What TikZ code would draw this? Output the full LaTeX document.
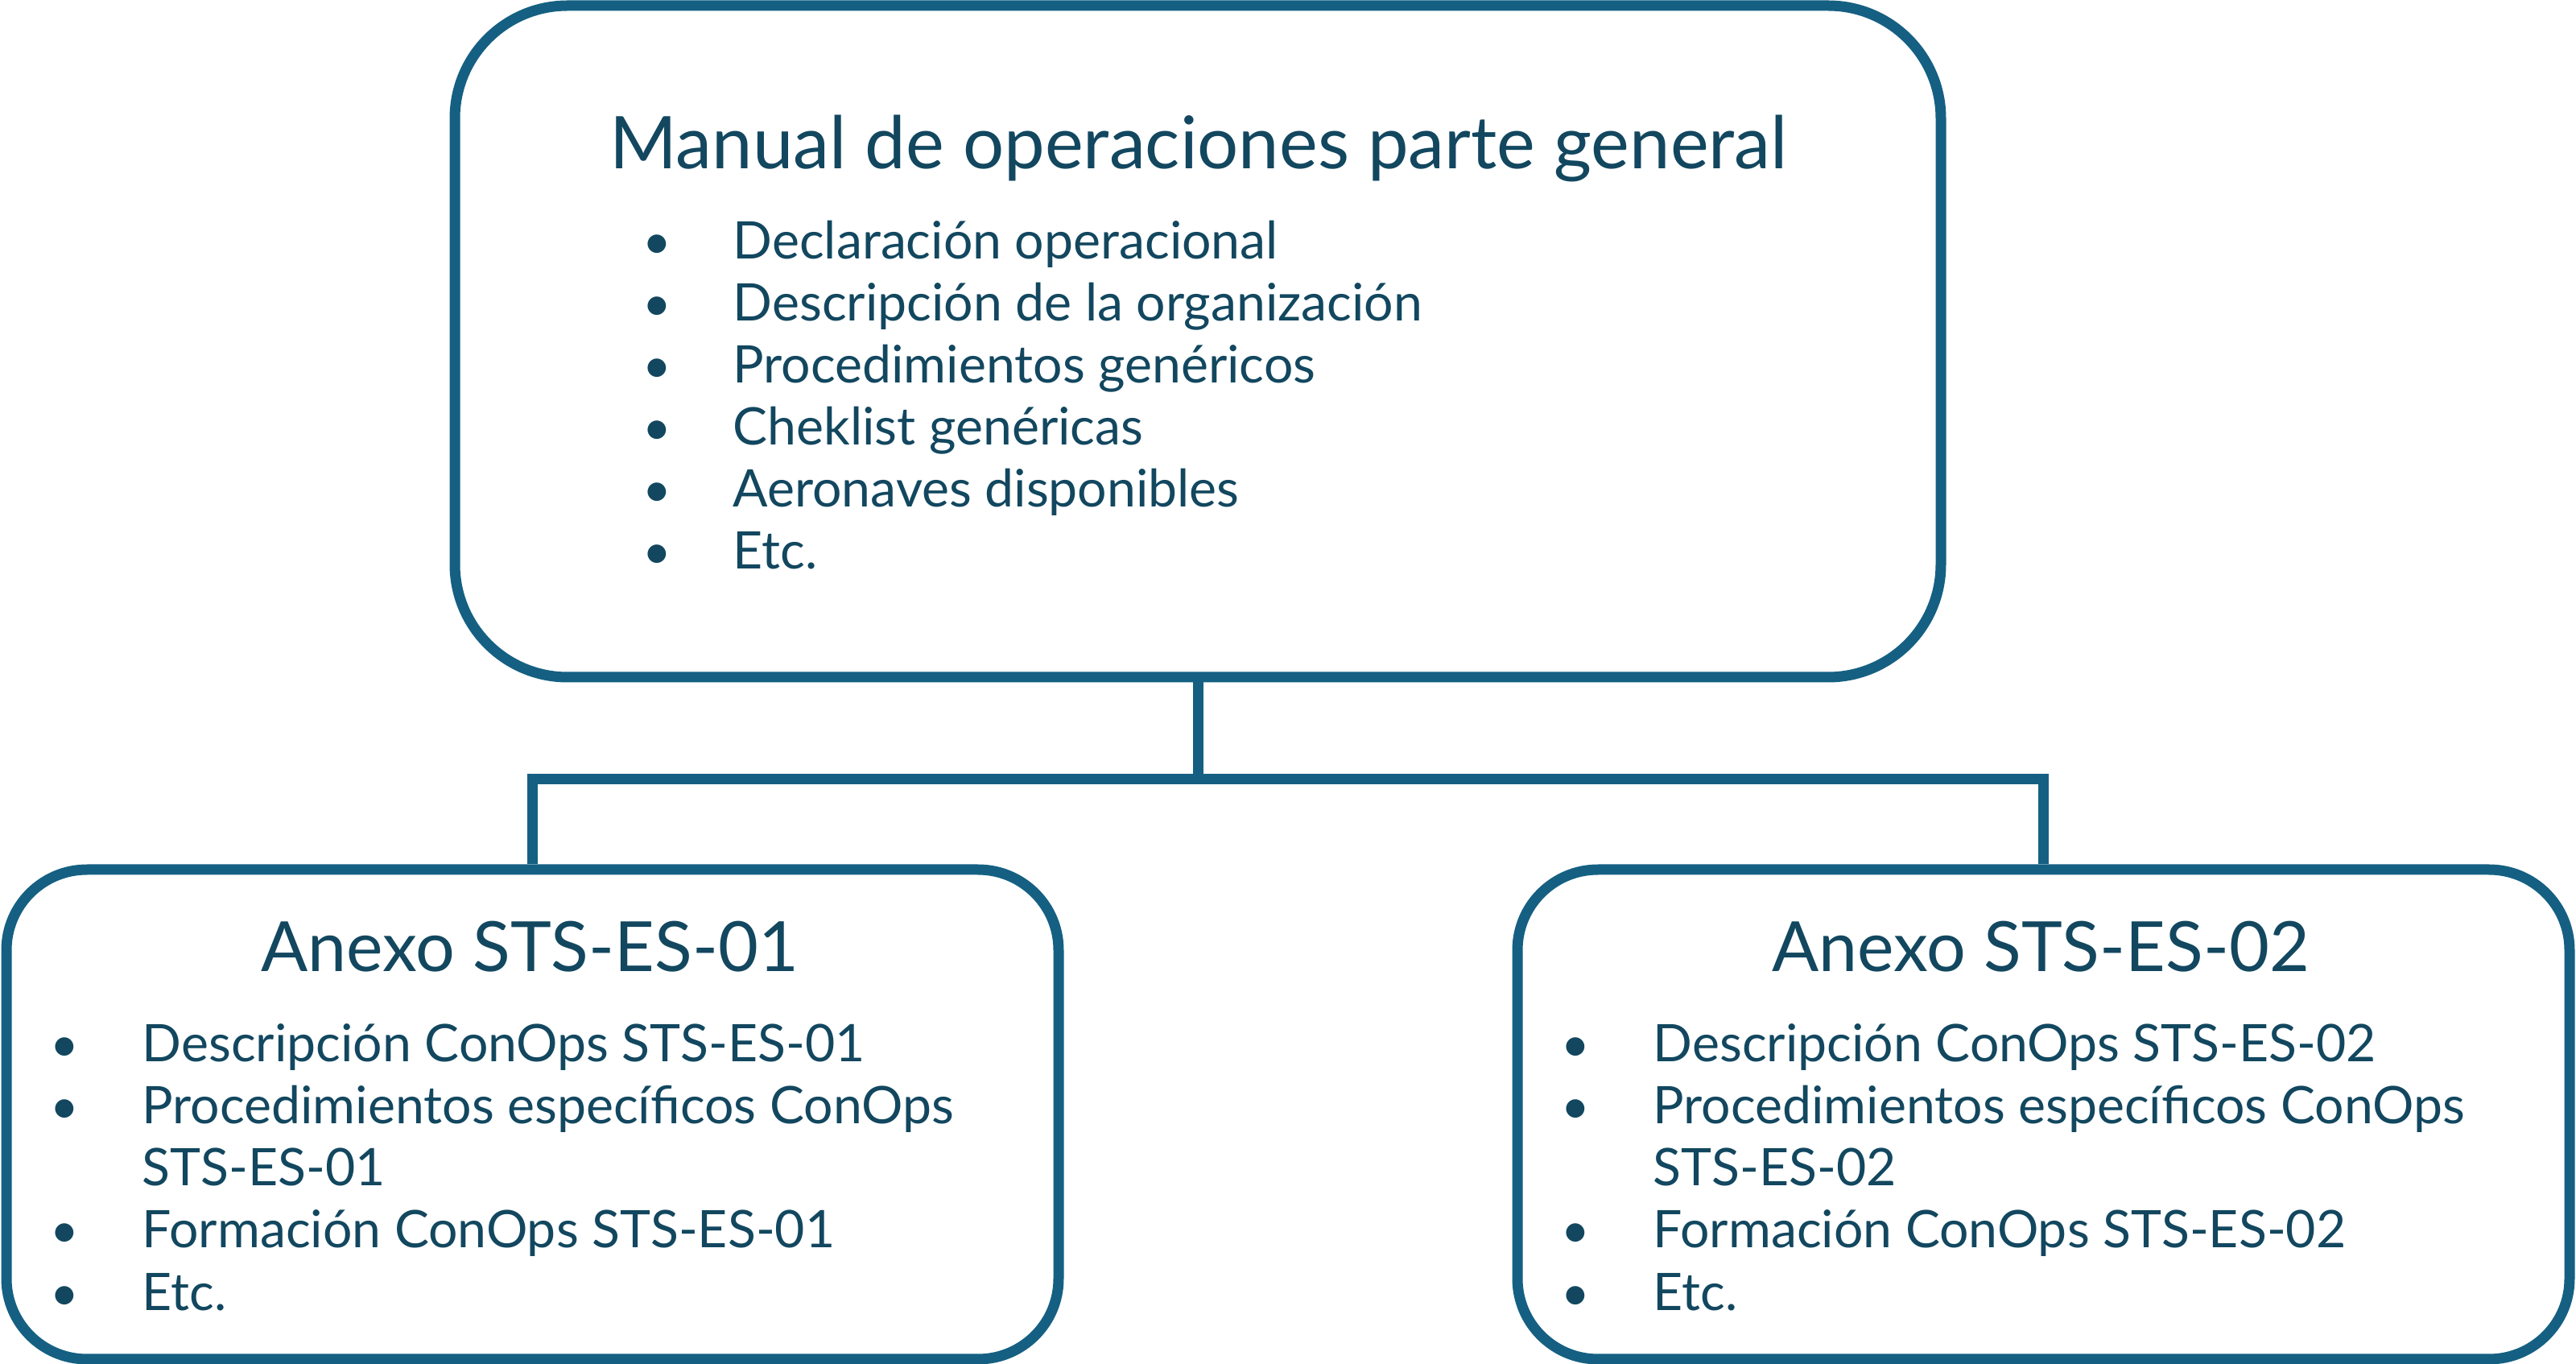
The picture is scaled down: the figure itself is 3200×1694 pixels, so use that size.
\documentclass[tikz,border=0pt]{standalone}
\usepackage{fontspec}
\setmainfont{Lato}
\usetikzlibrary{calc}

\definecolor{lineblue}{HTML}{156082}
\definecolor{textblue}{HTML}{12475F}

\tikzset{
  box/.style={draw=lineblue, line width=1.3mm, rounded corners=14mm, minimum width=184.6mm, minimum height=83.4mm},
  subbox/.style={draw=lineblue, line width=1.3mm, rounded corners=10mm, minimum width=130.7mm, minimum height=60.8mm},
  ttl/.style={text=textblue, anchor=base, inner sep=0pt, font=\fontsize{25.7}{30}\selectfont},
  subttl/.style={ttl, font=\fontsize{24.5}{29}\selectfont},
  itm/.style={text=textblue, anchor=base west, inner sep=0pt, font=\fontsize{18.3}{22}\selectfont},
  bul/.style={text=textblue, anchor=base, inner sep=0pt, font=\fontsize{17.5}{21}\selectfont},
}

\begin{document}
\begin{tikzpicture}[x=0.1mm,y=-0.1mm,line join=miter]
\useasboundingbox (0,0) rectangle (3200,1694);

% cajas
\node[box] (man) at (1488,424) {};
\node[subbox] (anA) at (661.5,1384) {};
\node[subbox] (anB) at (2538.5,1384) {};

% conectores
\draw[lineblue, line width=1.3mm] (man.south) -- ++(0,120) coordinate (fork) -| (anA.north);
\draw[lineblue, line width=1.3mm] (fork) -| (anB.north);

% manual parte general
\node[ttl] (manT) at (1489,210) {Manual de operaciones parte general};
\foreach \t [count=\i from 0] in {Declaración operacional,Descripción de la organización,Procedimientos genéricos,Cheklist genéricas,Aeronaves disponibles,Etc.}{
  \node[bul] (manB\i) at (816,322+77*\i) {•};
  \node[itm] (manI\i) at (910,322+77*\i) {\t};
}

% anexos
\foreach \n/\x in {1/0,2/1877}{
  \node[subttl] (anT\n) at (658+\x,1207) {Anexo STS-ES-0\n};
  \foreach \i in {0,1,3,4}
    \node[bul] (anB\n\i) at (80+\x,1319+77*\i) {•};
  \node[itm] (anI\n0) at (176+\x,1319) {Descripción ConOps STS-ES-0\n};
  \node[itm] (anI\n1) at (176+\x,1396) {Procedimientos específicos ConOps};
  \node[itm] (anI\n2) at (176+\x,1473) {STS-ES-0\n};
  \node[itm] (anI\n3) at (176+\x,1550) {Formación ConOps STS-ES-0\n};
  \node[itm] (anI\n4) at (176+\x,1627) {Etc.};
}

\end{tikzpicture}
\end{document}
